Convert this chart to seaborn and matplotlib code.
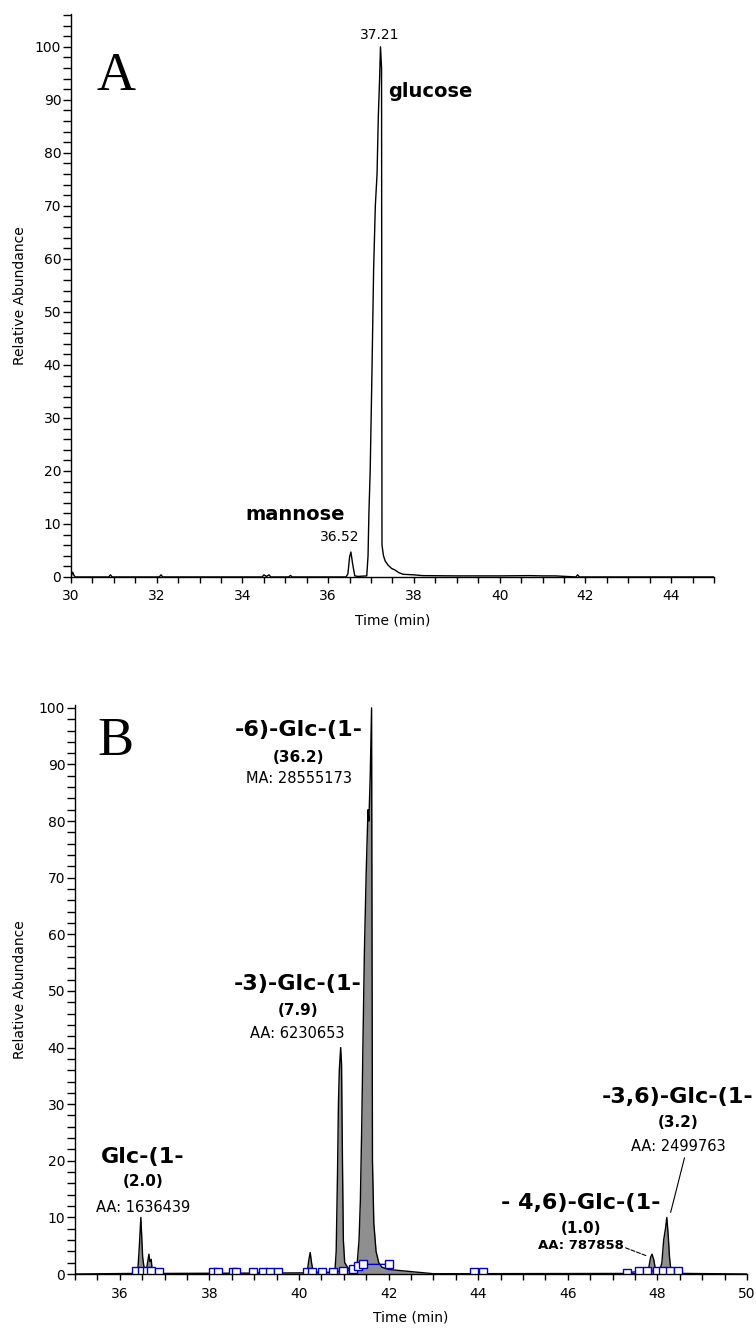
import matplotlib
matplotlib.use('Agg')
import matplotlib.pyplot as plt
from matplotlib.ticker import MultipleLocator
import seaborn as sns
import pandas as pd

# Panel A - monosaccharide trace
time_a = [30.0, 30.04, 30.07, 30.10, 30.88, 30.92, 30.96, 32.06, 32.10, 32.14,
          34.46, 34.50, 34.56, 34.62, 34.66, 35.08, 35.12, 35.16, 36.42, 36.46,
          36.50, 36.53, 36.57, 36.62, 36.70, 36.90, 36.93, 36.95, 36.98, 37.02,
          37.06, 37.10, 37.14, 37.17, 37.20, 37.22, 37.245, 37.255, 37.29, 37.33,
          37.40, 37.48, 37.56, 37.65, 37.75, 38.00, 38.20, 39.00, 40.00, 40.70,
          41.00, 41.30, 41.78, 41.82, 41.86, 42.20, 45.0]
abund_a = [0.0, 0.9, 0.3, 0.0, 0.0, 0.4, 0.0, 0.0, 0.4, 0.0,
           0.0, 0.4, 0.1, 0.4, 0.0, 0.0, 0.3, 0.0, 0.0, 0.6,
           3.8, 4.7, 2.5, 0.2, 0.1, 0.2, 4.0, 12.0, 20.0, 38.0,
           58.0, 70.0, 76.0, 87.0, 94.0, 100.0, 96.0, 6.0, 4.0, 3.0,
           2.2, 1.6, 1.3, 0.8, 0.5, 0.4, 0.25, 0.2, 0.2, 0.25,
           0.2, 0.2, 0.0, 0.4, 0.0, 0.0, 0.0]

a_peak_labels = ['36.52', '37.21']
a_label_time = [36.27, 37.20]
a_label_abund = [6.2, 101.0]
a_sugar_names = ['mannose', 'glucose']

# Panel B - linkage analysis trace
time_b = [35.0, 36.30, 36.40, 36.43, 36.45, 36.47, 36.49, 36.51, 36.54, 36.60,
          36.63, 36.65, 36.67, 36.70, 36.72, 36.78, 37.00, 40.18, 40.22, 40.25,
          40.28, 40.32, 40.80, 40.83, 40.86, 40.88, 40.90, 40.93, 40.95, 40.97,
          40.99, 41.02, 41.10, 41.25, 41.30, 41.34, 41.37, 41.40, 41.43, 41.46,
          41.50, 41.54, 41.56, 41.59, 41.62, 41.64, 41.67, 41.72, 41.78, 41.85,
          42.00, 42.40, 42.80, 43.00, 47.70, 47.80, 47.85, 47.88, 47.92, 47.96,
          48.05, 48.10, 48.14, 48.18, 48.21, 48.24, 48.27, 48.30, 48.40, 48.60,
          50.0]
abund_b = [0.0, 0.1, 0.5, 4.0, 7.0, 10.0, 6.5, 3.0, 1.2, 1.0,
           2.5, 3.5, 2.2, 2.6, 1.0, 0.3, 0.1, 0.2, 2.5, 3.8,
           2.0, 0.3, 0.3, 4.0, 18.0, 30.0, 36.0, 40.0, 37.0, 20.0,
           6.0, 2.0, 1.0, 0.8, 2.0, 6.0, 13.0, 26.0, 42.0, 57.0,
           71.0, 82.0, 80.0, 88.0, 100.0, 20.0, 9.0, 4.0, 2.0, 1.2,
           0.8, 0.5, 0.2, 0.05, 0.1, 0.8, 3.0, 3.5, 2.5, 0.6,
           0.5, 2.0, 6.0, 8.0, 10.0, 7.0, 3.0, 0.8, 0.3, 0.1,
           0.0]

# integration baseline markers
sq_time = [36.36, 36.49, 36.61, 36.70, 36.88, 38.08, 38.20, 38.53, 38.60, 38.97,
           39.20, 39.35, 39.53, 40.18, 40.29, 40.51, 40.76, 40.98, 41.20, 41.32,
           41.42, 42.02, 43.90, 44.10, 47.32, 47.60, 47.77, 48.00, 48.13, 48.28,
           48.45]
sq_abund = [0.5, 0.5, 0.5, 0.6, 0.4, 0.4, 0.4, 0.4, 0.4, 0.4,
            0.4, 0.4, 0.4, 0.4, 0.4, 0.4, 0.4, 0.5, 0.8, 1.4,
            1.7, 1.7, 0.4, 0.4, 0.2, 0.5, 0.5, 0.6, 0.6, 0.6,
            0.6]
sq_group = [1, 1, 1, 1, 1, 2, 2, 3, 3, 4,
            4, 5, 5, 6, 6, 6, 7, 7, 7, 7,
            7, 7, 8, 8, 9, 9, 9, 9, 9, 9,
            9]

b_names = ['Glc-(1-', '-3)-Glc-(1-', '-6)-Glc-(1-', '- 4,6)-Glc-(1-', '-3,6)-Glc-(1-']
b_pct = ['(2.0)', '(7.9)', '(36.2)', '(1.0)', '(3.2)']
b_area = ['AA: 1636439', 'AA: 6230653', 'MA: 28555173', 'AA: 787858', 'AA: 2499763']
b_label_time = [36.51, 39.97, 40.0, 46.29, 48.46]
b_name_y = [20.7, 51.2, 96.1, 12.5, 31.3]
b_pct_y = [16.3, 46.5, 91.3, 8.1, 26.7]
b_area_y = [11.8, 42.4, 87.6, 5.0, 22.6]

df_a = pd.DataFrame({'Time': time_a, 'Abundance': abund_a})
df_b = pd.DataFrame({'Time': time_b, 'Abundance': abund_b})
df_sq = pd.DataFrame({'Time': sq_time, 'Abundance': sq_abund, 'grp': sq_group})

sns.set_style('ticks')
plt.rcParams['font.family'] = ['DejaVu Sans']
plt.rcParams['axes.linewidth'] = 1.0
plt.rcParams['text.color'] = 'black'
plt.rcParams['axes.labelcolor'] = 'black'
plt.rcParams['xtick.color'] = 'black'
plt.rcParams['ytick.color'] = 'black'
plt.rcParams['axes.edgecolor'] = 'black'

fig = plt.figure(figsize=(7.56, 13.3), dpi=100)
ax_a = fig.add_axes([0.0939, 0.5662, 0.8505, 0.4233])
ax_b = fig.add_axes([0.0992, 0.0421, 0.8889, 0.4278])

def style_axis(ax, xlim, ylim):
    ax.set_xlim(*xlim)
    ax.set_ylim(*ylim)
    ax.xaxis.set_major_locator(MultipleLocator(2))
    ax.xaxis.set_minor_locator(MultipleLocator(0.5))
    ax.yaxis.set_major_locator(MultipleLocator(10))
    ax.yaxis.set_minor_locator(MultipleLocator(2))
    ax.tick_params(axis='x', which='both', length=4.5, width=1, pad=4.5, labelsize=10)
    ax.tick_params(axis='y', which='both', length=6, width=1, pad=1, labelsize=10)
    ax.set_xlabel('Time (min)', fontsize=10, labelpad=7)
    ax.set_ylabel('Relative Abundance', fontsize=10)
    sns.despine(ax=ax)

# ---- Panel A
sns.lineplot(df_a, x='Time', y='Abundance', ax=ax_a, color='black', linewidth=1.0)
style_axis(ax_a, (30, 45), (0, 106.2))
ax_a.yaxis.set_label_coords(-0.068, 0.5)
ax_a.text(30.6, 91.9, 'A', fontsize=39, family='Liberation Serif', va='baseline')
for lab, t, y in zip(a_peak_labels, a_label_time, a_label_abund):
    ax_a.text(t, y, lab, fontsize=10, ha='center', va='bottom')
ax_a.text(35.24, 11.7, a_sugar_names[0], fontsize=14, fontweight='bold', ha='center', va='center')
ax_a.text(37.39, 91.5, a_sugar_names[1], fontsize=14, fontweight='bold', ha='left', va='center')

# ---- Panel B
ax_b.fill_between(df_b['Time'], df_b['Abundance'], 0, color='#8f8f8f', linewidth=0)
sns.lineplot(df_b, x='Time', y='Abundance', ax=ax_b, color='black', linewidth=1.0)
sns.lineplot(df_sq, x='Time', y='Abundance', units='grp', estimator=None, ax=ax_b,
             color='#0000cc', linewidth=1.0, marker='s', markersize=5.5,
             markerfacecolor='white', markeredgecolor='#0000cc', markeredgewidth=1.0)
style_axis(ax_b, (35, 50), (0, 100.5))
ax_b.yaxis.set_label_coords(-0.071, 0.5)
ax_b.text(35.49, 91.7, 'B', fontsize=39, family='Liberation Serif', va='baseline')

for i in range(len(b_names)):
    ax_b.text(b_label_time[i], b_name_y[i], b_names[i], fontsize=16, fontweight='bold',
              ha='center', va='center', clip_on=False)
    ax_b.text(b_label_time[i], b_pct_y[i], b_pct[i], fontsize=11, fontweight='bold',
              ha='center', va='center')
    weight = 'bold' if i == 3 else 'normal'
    ax_b.text(b_label_time[i], b_area_y[i], b_area[i], fontsize=10.5 if i != 3 else 9.5,
              fontweight=weight, ha='center', va='center')

# leader lines for the small late peaks
ax_b.annotate('', xy=(48.28, 10.4), xytext=(48.62, 21.0),
              arrowprops=dict(arrowstyle='-', color='black', lw=0.8))
ax_b.annotate('', xy=(47.83, 3.0), xytext=(47.23, 4.8),
              arrowprops=dict(arrowstyle='-', color='black', lw=0.8, linestyle='--'))

plt.savefig('out.png', dpi=100)
